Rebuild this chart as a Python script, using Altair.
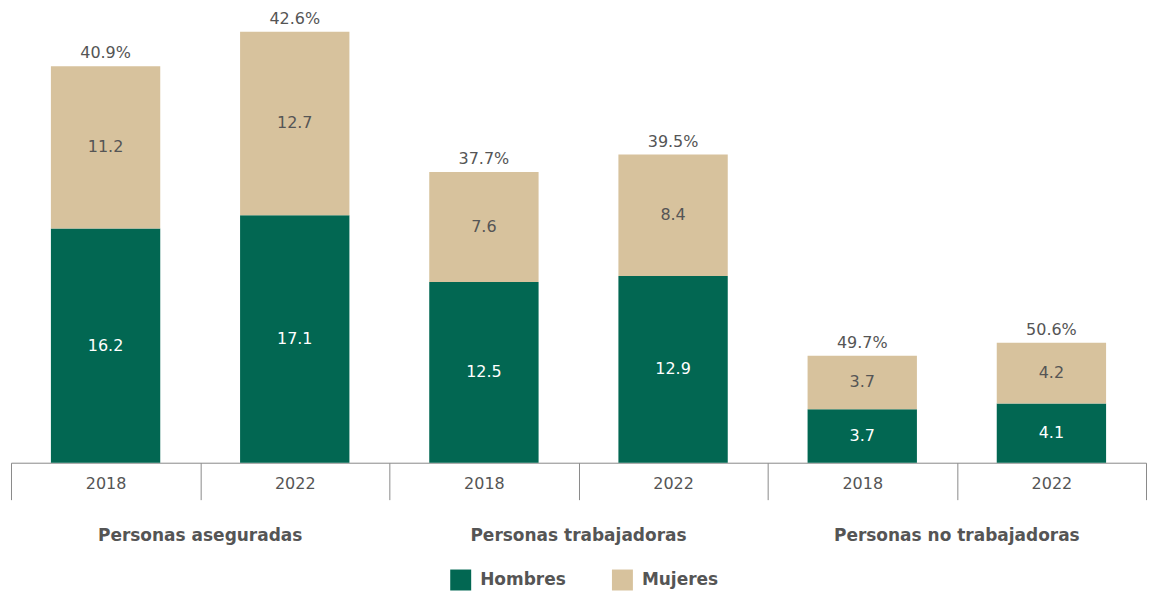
import altair as alt
import pandas as pd

groups = ["Personas aseguradas", "Personas trabajadoras", "Personas no trabajadoras"]
years = ["2018", "2022"]
hombres = [16.2, 17.1, 12.5, 12.9, 3.7, 4.1]
mujeres = [11.2, 12.7, 7.6, 8.4, 3.7, 4.2]
pct_mujeres = ["40.9%", "42.6%", "37.7%", "39.5%", "49.7%", "50.6%"]
series = ["Hombres", "Mujeres"]
colors = ["#026752", "#D7C29D"]

keys = []
rows = []
tot_rows = []
i = 0
for g in groups:
    for y in years:
        k = f"{g}|{y}"
        keys.append(k)
        rows.append({"key": k, "serie": "Hombres", "value": hombres[i], "ord": 0})
        rows.append({"key": k, "serie": "Mujeres", "value": mujeres[i], "ord": 1})
        tot_rows.append({"key": k, "total": hombres[i] + mujeres[i], "pct": pct_mujeres[i]})
        i += 1

df = pd.DataFrame(rows)
tot = pd.DataFrame(tot_rows)
grp = pd.DataFrame({"key": [f"{g}|{years[0]}" for g in groups], "group": groups})

FONT = "DejaVu Sans"
GRAY = "#555555"

xenc = alt.X(
    "key:N",
    sort=keys,
    scale=alt.Scale(paddingInner=0, paddingOuter=0),
    axis=alt.Axis(
        title=None,
        labelExpr="split(datum.label, '|')[1]",
        labelAngle=0,
        labelFont=FONT,
        labelFontSize=16,
        labelColor=GRAY,
        labelBaseline="middle",
        labelPadding=-16,
        tickBand="extent",
        tickSize=37,
        tickColor="#8a8a8a",
        domainColor="#8a8a8a",
        grid=False,
    ),
)
yscale = alt.Scale(domain=[0, 31.4])

base = alt.Chart(df)

bars = base.mark_bar(width=alt.RelativeBandSize(0.578)).encode(
    x=xenc,
    y=alt.Y("value:Q", stack="zero", scale=yscale, axis=None),
    color=alt.Color(
        "serie:N",
        scale=alt.Scale(domain=series, range=colors),
        legend=alt.Legend(
            title=None,
            orient="none",
            direction="horizontal",
            legendX=440,
            legendY=562,
            symbolType="square",
            symbolSize=441,
            symbolStrokeWidth=0,
            symbolOpacity=1,
            labelFont=FONT,
            labelFontSize=17,
            labelFontWeight="bold",
            labelColor=GRAY,
            labelOffset=9,
            columnPadding=46,
            padding=0,
        ),
    ),
    order=alt.Order("ord:Q"),
)

seg_text = base.transform_stack(
    stack="value", groupby=["key"], as_=["v0", "v1"], sort=[alt.SortField("ord")]
).transform_calculate(
    mid="(datum.v0 + datum.v1) / 2"
).mark_text(font=FONT, fontSize=16, baseline="middle").encode(
    x=alt.X("key:N", sort=keys),
    y=alt.Y("mid:Q", scale=yscale),
    text=alt.Text("value:Q", format=".1f"),
    color=alt.Color("serie:N", scale=alt.Scale(domain=series, range=["#ffffff", GRAY]), legend=None),
)

pct_text = alt.Chart(tot).mark_text(font=FONT, fontSize=16, color=GRAY, baseline="bottom", dy=-5).encode(
    x=alt.X("key:N", sort=keys),
    y=alt.Y("total:Q", scale=yscale),
    text="pct:N",
)

grp_text = alt.Chart(grp).mark_text(
    font=FONT, fontSize=17, fontWeight="bold", color=GRAY, baseline="middle"
).encode(
    x=alt.X("key:N", sort=keys, bandPosition=1),
    y=alt.value(528),
    text="group:N",
)

chart = alt.layer(bars, seg_text, pct_text, grp_text).resolve_scale(color="independent").properties(
    width=1137,
    height=455,
    padding={"left": 2, "top": 0, "right": 0, "bottom": 0},
).configure_view(stroke=None)

chart.save("out.html", embed_options={"renderer": "svg", "actions": False})
